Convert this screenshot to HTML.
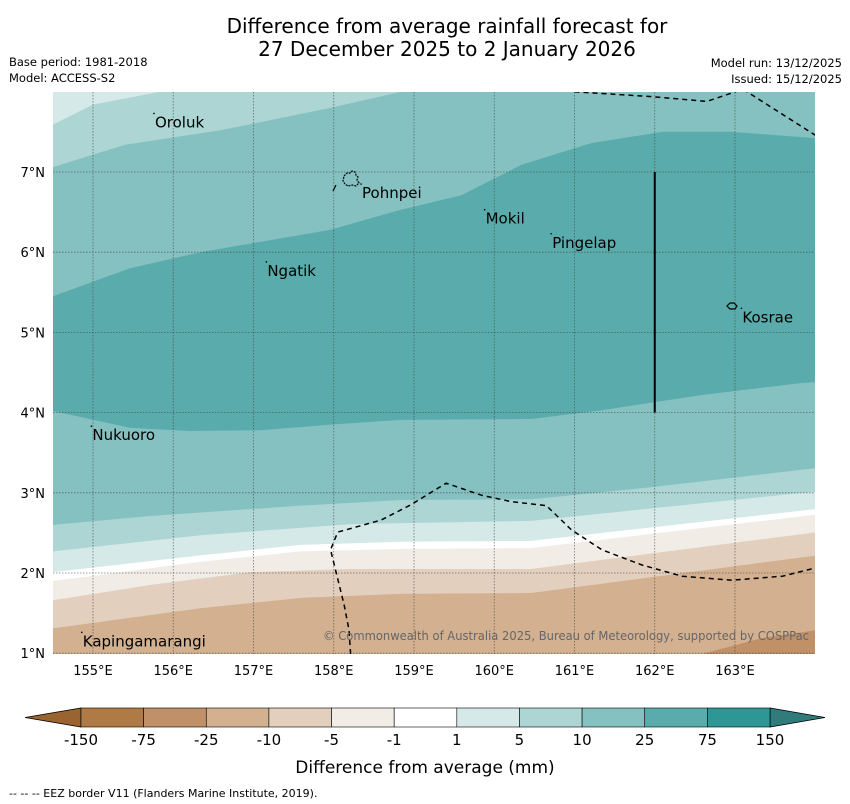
<!DOCTYPE html>
<html><head><meta charset="utf-8"><style>
html,body{margin:0;padding:0;background:#fff;width:850px;height:804px;overflow:hidden}
svg{display:block;font-family:"DejaVu Sans","Liberation Sans",sans-serif}
</style></head><body>
<svg id="chart" width="850" height="804" viewBox="0 0 850 804">
<defs><clipPath id="mapclip"><rect x="53" y="92" width="762" height="562"/></clipPath></defs>
<text x="447" y="33" text-anchor="middle" font-size="20">Difference from average rainfall forecast for</text>
<text x="447" y="56" text-anchor="middle" font-size="20">27 December 2025 to 2 January 2026</text>
<text x="9" y="66" font-size="11.5">Base period: 1981-2018</text>
<text x="9" y="82" font-size="11.5">Model: ACCESS-S2</text>
<text x="842" y="67" font-size="11.5" text-anchor="end">Model run: 13/12/2025</text>
<text x="842" y="83" font-size="11.5" text-anchor="end">Issued: 15/12/2025</text>
<g id="map" clip-path="url(#mapclip)"></g>
<g id="overlay"></g>
<g id="cbar"></g>
<text x="425" y="773" text-anchor="middle" font-size="17">Difference from average (mm)</text>
<text x="9" y="797" font-size="11">--  --  -- EEZ border V11 (Flanders Marine Institute, 2019).</text>
</svg>
<script>
// ---- data ----
const levelLabels = ["-150","-75","-25","-10","-5","-1","1","5","10","25","75","150"];
const levelColors = ["#b07a44","#c09068","#d2b090","#e2cfbd","#f1ece6","#ffffff","#d5e9e8","#acd5d4","#85c1c0","#5aabab","#2e9694"];
const lowExtendColor = "#9a6430", highExtendColor = "#317b7a";
const lonTicks = [155,156,157,158,159,160,161,162,163];
const latTicks = [1,2,3,4,5,6,7];
const contourFills = ["#acd5d4","#85c1c0","#5aabab","#85c1c0","#acd5d4","#d5e9e8","#ffffff","#f1ece6","#e2cfbd","#d2b090","#c09068"];
const contourLines = [
 [[154.5,7.59],[155,7.84],[155.84,8.0],[158,8.5]],
 [[154.5,7.06],[155.4,7.34],[156.59,7.52],[157.96,7.8],[158.84,8.0],[160,8.3]],
 [[154.5,5.45],[155.46,5.80],[156.34,6.0],[157.96,6.28],[158.84,6.53],[159.59,6.71],[160.34,7.09],[161.21,7.36],[162.09,7.5],[162.96,7.5],[164.03,7.42]],
 [[154.5,4.02],[155.46,3.81],[156.21,3.77],[157.09,3.78],[157.96,3.85],[158.84,3.91],[160.46,3.92],[161.34,4.03],[162.59,4.22],[163.84,4.37],[164.03,4.38]],
 [[154.5,2.60],[155.71,2.71],[157.59,2.84],[158.84,2.91],[160.46,2.92],[161.96,3.07],[164.03,3.31]],
 [[154.5,2.27],[156.34,2.47],[158.21,2.61],[160.46,2.65],[164.03,3.02]],
 [[154.5,2.01],[156.34,2.22],[157.59,2.35],[158.84,2.39],[160.46,2.40],[164.03,2.80]],
 [[154.5,1.90],[156.34,2.14],[157.59,2.27],[158.84,2.30],[160.46,2.31],[164.03,2.73]],
 [[154.5,1.66],[155.71,1.85],[156.96,2.01],[158.21,2.05],[160.46,2.05],[164.03,2.51]],
 [[154.5,1.31],[156.34,1.56],[157.59,1.69],[158.84,1.74],[160.46,1.75],[164.03,2.22]],
 [[162.59,0.99],[163.34,1.19],[164.03,1.29]]
];
const eezBottom = [[158.21,0.99],[158.19,1.29],[158.13,1.60],[157.96,2.29],[158.05,2.51],[158.59,2.66],[158.96,2.85],[159.4,3.12],[159.84,2.97],[160.21,2.89],[160.65,2.84],[160.96,2.54],[161.34,2.29],[161.84,2.10],[162.34,1.96],[162.96,1.91],[163.59,1.96],[164.03,2.07]];
const eezTop = [[161,8.0],[161.96,7.94],[162.65,7.88],[163.09,8.03],[163.15,8.0],[163.59,7.72],[164.03,7.44]];
const places = [
 {name:"Oroluk",lon:155.76,lat:7.73},{name:"Pohnpei",lon:158.34,lat:6.85},
 {name:"Mokil",lon:159.88,lat:6.53},{name:"Pingelap",lon:160.71,lat:6.23},
 {name:"Ngatik",lon:157.16,lat:5.88},{name:"Kosrae",lon:163.08,lat:5.30},
 {name:"Nukuoro",lon:154.98,lat:3.83},{name:"Kapingamarangi",lon:154.86,lat:1.26}
];
// ---- axes ----
const X = lon => 93 + (lon-155)*80.25;
const Y = lat => 172 - (lat-7)*80.2;
const NS="http://www.w3.org/2000/svg";
function mk(tag,attrs,parent){const e=document.createElementNS(NS,tag);for(const k in attrs)e.setAttribute(k,attrs[k]);parent.appendChild(e);return e;}
const map=document.getElementById('map'), ov=document.getElementById('overlay'), cb=document.getElementById('cbar');
let bg=mk('rect',{x:53,y:92,width:762,height:562,fill:"#d5e9e8"},map);


contourLines.forEach((line,i)=>{
  let pts=line.map(p=>X(p[0])+","+Y(p[1]));
  const last=line[line.length-1], first=line[0];
  pts.push(X(last[0])+",700", X(first[0])+",700");
  if(last[0]<164.03){pts.splice(line.length,0,"900,"+Y(last[1]),"900,700");}
  const p=mk('polygon',{points:pts.join(" "),fill:contourFills[i]},map);
  
  
});
lonTicks.forEach(l=>{const g=mk('line',{x1:X(l),x2:X(l),y1:92,y2:654,stroke:"#444",'stroke-width':0.8,'stroke-dasharray':"1.5,1.5",opacity:0.7},map);
 
 const t=mk('text',{x:X(l),y:675,'text-anchor':'middle','font-size':13},ov);t.textContent=l+"°E";
 });
latTicks.forEach(l=>{const g=mk('line',{x1:53,x2:815,y1:Y(l),y2:Y(l),stroke:"#444",'stroke-width':0.8,'stroke-dasharray':"1.5,1.5",opacity:0.7},map);
 
 const t=mk('text',{x:45,y:Y(l)+5,'text-anchor':'end','font-size':13},ov);t.textContent=l+"°N";
 });
[eezBottom,eezTop].forEach((ln,i)=>{const p=mk('polyline',{points:ln.map(p=>X(p[0])+","+Y(p[1])).join(" "),fill:"none",stroke:"#000",'stroke-width':1.5,'stroke-dasharray':"5,4"},map);
 });
let sl=mk('line',{x1:X(162),x2:X(162),y1:Y(7),y2:Y(4),stroke:"#000",'stroke-width':2},map);

let dd=mk('line',{x1:333,y1:191,x2:336,y2:185,stroke:"#000",'stroke-width':1.2},map);

let pi=mk('path',{d:"M344,176 l3,-3 3,0 2,-2 3,1 1,3 2,2 -1,3 2,3 -3,3 -4,-1 -4,1 -3,-2 -2,-3 z",fill:"none",stroke:"#000",'stroke-width':1.2,'stroke-dasharray':"2,1"},map);

let ki=mk('path',{d:"M727,306 l3,-3 4,0 3,3 -2,3 -5,0 z",fill:"none",stroke:"#000",'stroke-width':1.2},map);

places.forEach(pl=>{const t=mk('text',{x:X(pl.lon)+1,y:Y(pl.lat)+14,'font-size':15},map);t.textContent=pl.name;
 
 const d=mk('circle',{cx:X(pl.lon),cy:Y(pl.lat),r:0.8,fill:"#000"},map);
 });
let cp=mk('text',{x:323,y:640,'font-size':12,fill:"#666",textLength:486,lengthAdjust:"spacingAndGlyphs"},map);cp.textContent="© Commonwealth of Australia 2025, Bureau of Meteorology, supported by COSPPac";

const cbx0=81,cbx1=770,cby=708,cbh=19,segw=(cbx1-cbx0)/levelColors.length;
let lt=mk('polygon',{points:`${cbx0},${cby} ${cbx0},${cby+cbh} 25,${cby+cbh/2}`,fill:lowExtendColor,stroke:"#000",'stroke-width':0.8},cb);

let rt=mk('polygon',{points:`${cbx1},${cby} ${cbx1},${cby+cbh} 825,${cby+cbh/2}`,fill:highExtendColor,stroke:"#000",'stroke-width':0.8},cb);

levelColors.forEach((c,i)=>{const r=mk('rect',{x:cbx0+i*segw,y:cby,width:segw,height:cbh,fill:c,stroke:"#000",'stroke-width':0.6},cb);
 });
levelLabels.forEach((l,i)=>{const t=mk('text',{x:cbx0+i*segw,y:745,'text-anchor':'middle','font-size':15},cb);t.textContent=l;
 });
</script>
</body></html>
